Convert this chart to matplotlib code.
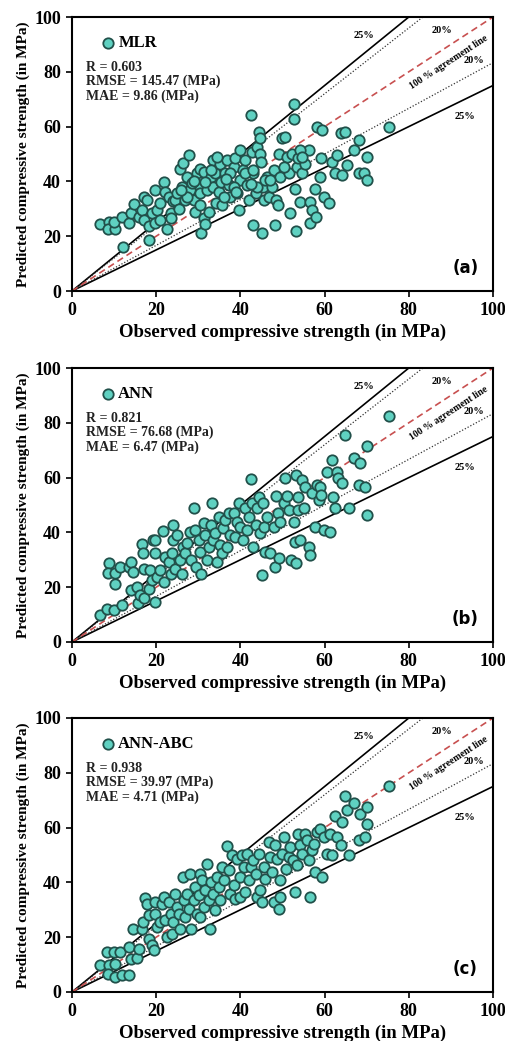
import matplotlib
matplotlib.use("Agg")
import matplotlib.pyplot as plt
import numpy as np

# ---------------- data ----------------
mlr_obs = [6.7, 8.7, 8.5, 10.3, 9.9, 11.9, 12.1, 13.5, 13.9, 14.8, 15.8, 16.6, 17.0, 17.2, 17.8, 18.2,
           18.4, 19.0, 19.8, 19.6, 20.2, 21.0, 21.8, 22.0, 22.6, 23.0, 23.4, 23.5, 24.0, 24.5, 24.9, 25.3,
           25.7, 26.1, 26.4, 26.9, 27.7, 27.3, 28.1, 28.9, 29.3, 29.7, 30.1, 30.3, 30.5, 30.7, 31.3, 31.4,
           31.7, 32.1, 32.5, 32.9, 33.5, 33.6, 34.0, 34.3, 34.8, 35.2, 35.4, 35.6, 36.4, 36.8, 37.2, 37.6,
           38.4, 38.8, 39.2, 39.6, 39.8, 40.0, 40.6, 41.2, 41.6, 42.0, 42.5, 42.8, 43.0, 43.1, 43.6, 44.0,
           44.3, 44.6, 44.7, 44.9, 45.1, 45.4, 45.5, 46.3, 46.7, 47.5, 47.9, 48.3, 48.5, 48.9, 49.1, 49.5,
           49.9, 50.7, 51.1, 51.5, 51.9, 52.3, 52.7, 52.8, 53.0, 53.1, 53.4, 53.8, 54.1, 54.6, 55.4, 56.2,
           56.5, 56.6, 57.0, 57.8, 58.0, 58.2, 58.8, 59.1, 59.4, 59.8, 61.0, 61.8, 62.5, 63.0, 63.8, 64.1,
           64.9, 65.3, 66.9, 68.1, 68.1, 69.3, 70.1, 70.1, 75.2,
           27.3, 28.5, 30.5, 31.7, 34.4, 36.0, 37.6, 41.2, 38.4, 43.1, 44.0, 45.9, 47.1, 50.3, 54.2, 54.6,
           21.0, 26.0, 29.0, 33.0, 36.5, 39.0, 42.5]
mlr_pred = [24.4, 25.3, 22.5, 22.5, 25.3, 27.1, 16.2, 24.9, 28.3, 31.7, 27.1, 29.5, 34.4, 25.9, 33.2, 23.7,
            18.6, 28.3, 36.8, 24.9, 29.5, 32.0, 39.9, 36.2, 22.8, 34.4, 28.3, 26.5, 32.8, 33.2, 35.6, 30.1,
            44.7, 38.0, 46.8, 33.2, 49.6, 41.7, 36.8, 33.2, 28.9, 42.9, 38.6, 44.7, 35.6, 21.3, 43.5, 26.5,
            24.4, 36.8, 28.9, 41.7, 47.8, 38.0, 42.9, 32.0, 36.2, 46.5, 39.9, 31.3, 42.9, 47.8, 38.6, 34.4,
            45.3, 48.4, 35.6, 29.5, 51.4, 40.5, 44.1, 47.8, 38.6, 33.2, 64.2, 50.8, 42.9, 24.1, 35.6, 52.6,
            58.1, 55.7, 50.1, 47.1, 21.0, 38.0, 33.2, 41.7, 34.4, 38.0, 44.1, 24.1, 33.2, 31.3, 50.1, 41.7,
            55.7, 56.3, 49.0, 42.9, 28.3, 50.1, 68.4, 62.9, 37.4, 22.0, 45.3, 48.4, 32.6, 42.9, 46.5, 51.4,
            32.6, 24.7, 29.5, 37.4, 27.1, 59.9, 41.7, 48.4, 58.7, 34.4, 32.0, 47.1, 42.9, 49.6, 57.5, 42.3,
            58.1, 45.9, 51.4, 55.0, 42.9, 42.9, 49.0, 40.5, 59.9,
            34.4, 39.4, 31.3, 39.9, 49.0, 34.4, 42.9, 42.9, 38.0, 44.1, 38.0, 40.5, 40.5, 45.3, 51.4, 49.0,
            25.9, 37.0, 40.0, 44.0, 41.0, 36.0, 39.0]

ann_obs = [6.7, 8.3, 8.7, 8.5, 9.9, 10.3, 10.3, 11.5, 11.9, 13.5, 13.9, 13.9, 14.6, 15.4, 15.6, 16.1,
           16.6, 16.8, 17.0, 17.2, 18.2, 18.6, 19.0, 19.2, 19.6, 19.8, 19.8, 20.2, 20.8, 21.6, 21.8, 22.2,
           23.0, 23.4, 23.8, 24.0, 24.1, 24.5, 24.9, 25.6, 26.1, 26.4, 26.9, 27.3, 28.1, 28.3, 28.9, 29.3,
           29.5, 30.1, 30.3, 30.7, 31.3, 31.7, 32.1, 32.5, 32.9, 33.2, 33.5, 34.0, 34.4, 34.8, 35.2, 35.6,
           35.9, 36.4, 36.8, 37.2, 37.6, 38.4, 38.8, 39.2, 39.6, 40.0, 40.6, 41.2, 41.6, 42.0, 42.5, 42.8,
           43.1, 43.6, 44.0, 44.3, 44.7, 45.1, 45.4, 45.5, 45.9, 46.3, 47.1, 47.9, 48.3, 48.5, 48.9, 49.1,
           49.5, 50.3, 50.7, 51.1, 51.5, 52.0, 52.7, 53.0, 53.1, 53.3, 53.6, 53.8, 54.1, 54.6, 55.0, 55.4,
           56.2, 56.5, 57.0, 57.8, 58.2, 58.6, 58.9, 59.1, 59.8, 60.6, 61.4, 61.8, 62.0, 62.5, 63.0, 63.3,
           64.1, 64.9, 65.7, 66.9, 68.1, 68.5, 69.7, 70.1, 70.1, 75.2]
ann_pred = [9.8, 12.2, 28.9, 25.2, 11.6, 21.0, 25.2, 27.4, 13.4, 27.4, 29.3, 19.1, 25.6, 20.1, 14.3, 17.1,
            35.7, 32.3, 26.5, 15.9, 19.5, 26.2, 22.6, 37.2, 14.6, 32.3, 37.4, 23.8, 26.2, 40.6, 22.0, 31.1,
            29.3, 25.0, 32.3, 42.7, 37.2, 26.8, 39.0, 29.9, 25.0, 34.8, 32.3, 36.0, 40.2, 29.9, 48.8, 40.9,
            27.4, 37.2, 32.9, 25.0, 43.3, 39.0, 29.9, 34.8, 42.7, 50.6, 37.2, 39.6, 29.3, 45.7, 35.4, 32.3,
            41.5, 44.5, 34.8, 47.0, 39.0, 47.0, 38.4, 43.9, 50.6, 42.1, 37.2, 48.8, 40.9, 45.7, 59.4, 50.6,
            34.8, 42.7, 48.8, 53.0, 39.6, 24.4, 50.6, 42.1, 32.9, 45.7, 32.3, 42.1, 27.4, 53.3, 47.0, 30.5,
            43.9, 50.6, 59.8, 53.3, 48.2, 29.9, 43.9, 36.6, 28.7, 61.0, 53.0, 48.2, 37.2, 59.1, 48.8, 56.7,
            34.8, 31.7, 54.3, 42.1, 57.3, 51.8, 56.7, 53.7, 40.9, 62.2, 40.2, 66.5, 53.0, 48.8, 62.2, 59.8,
            57.9, 75.6, 48.8, 67.1, 57.3, 65.2, 56.7, 71.6, 46.3, 82.6]

abc_obs = [6.7, 8.3, 8.7, 8.5, 9.9, 10.3, 10.3, 11.5, 11.9, 13.5, 13.5, 13.9, 14.6, 15.4, 15.8, 16.6,
           16.8, 17.4, 17.8, 18.2, 18.4, 19.0, 19.4, 19.6, 19.8, 20.2, 20.8, 21.4, 21.8, 22.2, 22.6, 23.0,
           23.4, 23.8, 24.1, 24.5, 24.9, 25.3, 25.7, 26.4, 26.5, 26.9, 27.3, 27.7, 28.1, 28.3, 28.9, 29.3,
           29.7, 30.1, 30.3, 30.5, 30.9, 31.3, 31.7, 32.1, 32.5, 32.7, 32.9, 33.5, 34.0, 34.4, 34.8, 35.2,
           35.6, 36.2, 36.8, 37.2, 37.6, 38.0, 38.4, 38.8, 39.2, 39.8, 40.0, 40.4, 40.8, 41.2, 41.6, 42.0,
           42.4, 43.1, 43.6, 44.0, 44.3, 44.7, 45.1, 45.5, 45.9, 46.7, 47.1, 47.5, 47.9, 48.3, 48.7, 49.1,
           49.3, 49.5, 49.9, 50.4, 50.9, 51.5, 51.9, 52.5, 53.0, 53.4, 53.8, 54.2, 54.6, 55.4, 55.8, 56.2,
           56.5, 57.0, 57.4, 57.8, 58.2, 58.8, 59.4, 59.8, 60.6, 61.4, 61.8, 62.5, 63.0, 63.8, 64.1, 64.9,
           65.3, 65.7, 66.9, 68.1, 68.5, 69.7, 70.1, 70.1, 75.2]
abc_pred = [10.0, 14.6, 9.7, 6.7, 14.6, 5.5, 10.3, 14.6, 6.1, 6.1, 16.4, 12.2, 23.1, 12.5, 15.8, 23.1,
            25.5, 34.4, 32.0, 19.5, 28.0, 17.0, 15.2, 28.6, 32.8, 23.7, 25.5, 32.2, 34.7, 26.4, 20.1, 32.8,
            28.6, 21.3, 25.5, 35.9, 31.0, 28.6, 23.1, 42.0, 33.5, 27.4, 35.9, 30.4, 43.2, 23.1, 33.5, 38.3,
            28.6, 35.3, 27.4, 43.2, 40.8, 31.0, 37.1, 46.8, 33.5, 23.1, 40.1, 35.9, 29.8, 42.0, 38.3, 33.5,
            45.6, 40.8, 53.2, 44.4, 35.9, 49.9, 38.9, 34.1, 48.7, 42.0, 34.7, 49.9, 45.6, 36.5, 50.5, 40.8,
            45.6, 48.0, 43.2, 34.7, 50.5, 37.1, 32.8, 45.6, 41.4, 54.7, 49.3, 43.8, 32.8, 53.5, 48.7, 30.4,
            34.7, 40.8, 50.5, 56.6, 45.0, 49.3, 52.9, 48.0, 36.5, 46.2, 57.8, 53.5, 50.5, 57.8, 55.4, 48.0,
            34.7, 51.7, 54.1, 43.8, 58.4, 59.6, 42.0, 56.6, 50.5, 57.8, 49.9, 64.1, 56.6, 53.5, 62.0, 71.4,
            66.3, 49.9, 69.0, 55.4, 64.8, 56.6, 67.5, 61.4, 75.1]

models = ["MLR", "ANN", "ANN-ABC"]
stats = [("0.603", "145.47", "9.86"), ("0.821", "76.68", "6.47"), ("0.938", "39.97", "4.71")]
panel_labels = ["(a)", "(b)", "(c)"]
ticks = [0, 20, 40, 60, 80, 100]

# ---------------- figure ----------------
W, H = 506, 1041
fig = plt.figure(figsize=(W / 100, H / 100), dpi=100)
serif = ["Liberation Serif", "DejaVu Serif"]

tops = [17, 368, 718]
bottoms = [291, 642, 992]
left_px, right_px = 72, 493

datasets = [(mlr_obs, mlr_pred), (ann_obs, ann_pred), (abc_obs, abc_pred)]
face = "#5fd1c1"
edge = "#21504a"

xr = np.array([0, 100])
for i, (obs, pred) in enumerate(datasets):
    ax = fig.add_axes([left_px / W, 1 - bottoms[i] / H, (right_px - left_px) / W,
                       (bottoms[i] - tops[i]) / H])
    ax.set_xlim(0, 100)
    ax.set_ylim(0, 100)
    # reference lines
    ax.plot(xr, 1.25 * xr, color="black", lw=1.2, zorder=2)
    ax.plot(xr, 0.75 * xr, color="black", lw=1.2, zorder=2)
    ax.plot(xr, 1.2 * xr, color="#333333", lw=0.9, ls=(0, (1, 1.5)), zorder=2)
    ax.plot(xr, xr / 1.2, color="#333333", lw=0.9, ls=(0, (1, 1.5)), zorder=2)
    ax.plot(xr, xr, color="#c85050", lw=1.2, ls=(0, (4, 2.5)), zorder=2)

    ax.scatter(obs, pred, s=56, facecolor=face, edgecolor=edge, linewidth=1.3, zorder=3)

    # legend-like marker + name
    ax.scatter([8.5], [90.5], s=56, facecolor=face, edgecolor=edge, linewidth=1.3, zorder=4)
    ax.text(11.0, 90.5, models[i], fontsize=12, fontweight="bold", family=serif,
            va="center", ha="left")
    r, rmse, mae = stats[i]
    ax.text(3.3, 84.0, f"R = {r}\nRMSE = {rmse} (MPa)\nMAE = {mae} (MPa)",
            fontsize=10, fontweight="bold", family=serif, va="top", ha="left",
            linespacing=1.1, color="#222222")

    # line annotations
    ax.text(69.3, 93.3, "25%", fontsize=7.5, fontweight="bold", family=serif, ha="center", va="center")
    ax.text(88.0, 95.2, "20%", fontsize=7.5, fontweight="bold", family=serif, ha="center", va="center")
    ax.text(95.4, 84.3, "20%", fontsize=7.5, fontweight="bold", family=serif, ha="center", va="center")
    ax.text(93.4, 63.8, "25%", fontsize=7.5, fontweight="bold", family=serif, ha="center", va="center")
    ang = np.degrees(np.arctan((bottoms[i] - tops[i]) / (right_px - left_px)))
    ax.text(89.5, 83.5, "100 % agreement line", fontsize=7, fontweight="bold", family=serif,
            ha="center", va="center", rotation=ang, rotation_mode="anchor")

    ax.text(93.4, 8.3, panel_labels[i], fontsize=12, fontweight="bold", family="DejaVu Sans",
            ha="center", va="center")

    ax.set_xticks(ticks)
    ax.set_yticks(ticks)
    ax.set_xticklabels([str(t) for t in ticks], fontsize=13, fontweight="bold", family=serif)
    ax.set_yticklabels([str(t) for t in ticks], fontsize=13, fontweight="bold", family=serif)
    ax.tick_params(direction="out", length=4, width=1.2, pad=4)
    for sp in ax.spines.values():
        sp.set_linewidth(1.5)
        sp.set_color("black")
    ax.set_xlabel("Observed compressive strength (in MPa)", fontsize=13.5, fontweight="bold",
                  family=serif, labelpad=3)
    ax.set_ylabel("Predicted compressive strength (in MPa)", fontsize=11, fontweight="bold",
                  family=serif, labelpad=3)

fig.savefig("out.png", dpi=100)
